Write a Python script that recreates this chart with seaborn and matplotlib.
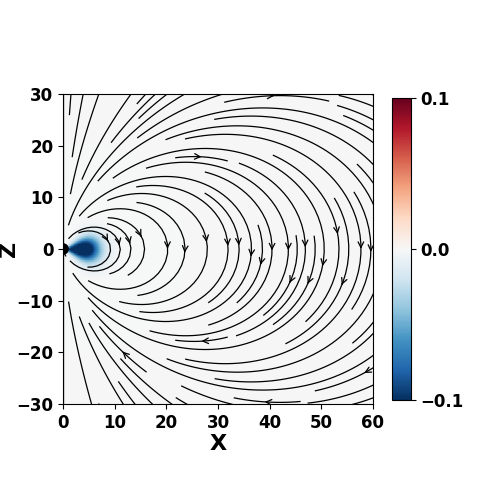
import numpy as np
import matplotlib
matplotlib.use("Agg")
import matplotlib.pyplot as plt
import seaborn as sns

# visible window
x_view = [0, 60]
z_view = [-30, 30]
x_ticks = [0, 10, 20, 30, 40, 50, 60]
z_ticks = [-30, -20, -10, 0, 10, 20, 30]

# field grid (larger than the view, as in the original run)
x_grid = [0, 100]
z_grid = [-100, 100]
n_x = 601
n_z = 601
stream_density = (1.8, 3.6)

# dipole (moment along +z) and planet
dipole_moment = 1.0
planet_radius = 1.0

# colored quantity: negative blob near the planet
blob_amp = -0.16
blob_r0 = 3.5
blob_sr = 3.3
blob_slat = 0.45

cbar_ticks = [-0.1, 0.0, 0.1]
cbar_labels = ["\u22120.1", "0.0", "0.1"]

sns.set_style("ticks", {"axes.edgecolor": "black", "text.color": "black",
                        "xtick.color": "black", "ytick.color": "black",
                        "axes.labelcolor": "black"})
plt.rcParams["font.family"] = ["DejaVu Sans"]
plt.rcParams["font.weight"] = "bold"

x = np.linspace(x_grid[0], x_grid[1], n_x)
z = np.linspace(z_grid[0], z_grid[1], n_z)
X, Z = np.meshgrid(x, z)
R = np.maximum(np.sqrt(X**2 + Z**2), 0.3)
Bx = dipole_moment * 3 * X * Z / R**5
Bz = dipole_moment * (3 * Z**2 - R**2) / R**5
lat = np.arctan2(Z, X)
val = blob_amp * np.exp(-((R - blob_r0) / blob_sr) ** 2) * np.exp(-(lat / blob_slat) ** 2)

cmap = sns.color_palette("RdBu_r", as_cmap=True)

fig = plt.figure(figsize=(5, 5), dpi=100)
ax = fig.add_axes([0.126, 0.192, 0.62, 0.62])
cax = fig.add_axes([0.784, 0.2, 0.038, 0.604])

mesh = ax.pcolormesh(X, Z, val, cmap=cmap, vmin=-0.1, vmax=0.1, shading="gouraud")
ax.streamplot(x, z, Bx, Bz, color="k", linewidth=0.9, density=stream_density,
              arrowstyle="->", arrowsize=1.0)
ax.add_patch(plt.Circle((0, 0), planet_radius, color="k", zorder=5))

ax.set_xlim(x_view)
ax.set_ylim(z_view)
ax.set_xticks(x_ticks)
ax.set_yticks(z_ticks)
ax.tick_params(labelsize=12, colors="black")
for lab in ax.get_xticklabels() + ax.get_yticklabels():
    lab.set_fontweight("bold")
ax.set_xlabel("X", fontsize=16, fontweight="bold", labelpad=2, color="black")
ax.set_ylabel("Z", fontsize=16, fontweight="bold", labelpad=-2, color="black")

cb = fig.colorbar(mesh, cax=cax, ticks=cbar_ticks)
cb.ax.tick_params(colors="black")
cb.ax.set_yticklabels(cbar_labels, fontsize=12, fontweight="bold", color="black")
cb.outline.set_edgecolor("black")

fig.savefig("out.png", dpi=100)
